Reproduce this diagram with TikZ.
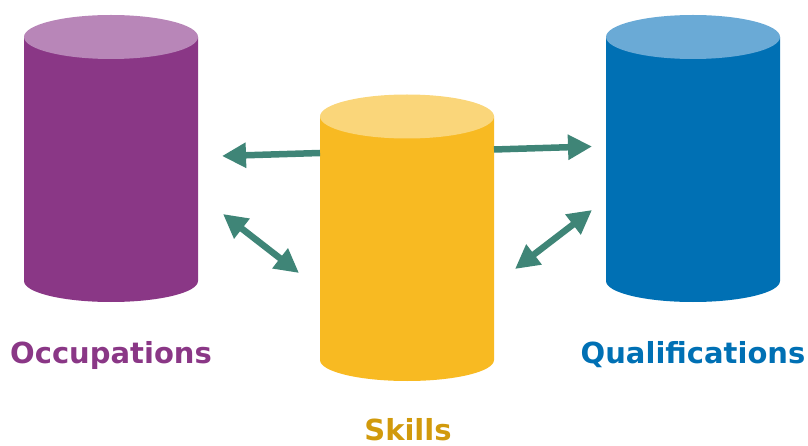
\documentclass[tikz,border=0pt]{standalone}
\usepackage{fontspec}
\setmainfont{DejaVu Sans}
\usetikzlibrary{arrows.meta}
\definecolor{occbody}{HTML}{8A3786}
\definecolor{occtop}{HTML}{B886B8}
\definecolor{skbody}{HTML}{F8BA22}
\definecolor{sktop}{HTML}{FAD67A}
\definecolor{sktext}{HTML}{D19A0C}
\definecolor{qubody}{HTML}{0070B4}
\definecolor{qutop}{HTML}{6AAAD6}
\definecolor{arrowc}{HTML}{3F8577}
\tikzset{
  lbl/.style={font=\fontsize{29}{34}\selectfont\bfseries, anchor=base, inner sep=0pt, text depth=0pt},
  link/.style={draw=arrowc, line width=6.5pt, -{Triangle[length=24pt,width=24pt]}},
  dlink/.style={draw=arrowc, line width=6.5pt, {Triangle[length=24pt,width=24pt]}-{Triangle[length=24pt,width=24pt]}},
  box/.style={inner sep=0pt, outer sep=0pt, minimum width=174pt}
}
% cylinder macro: #1 left x, #2 top center y, #3 bottom center y, #4 body, #5 top
\newcommand{\mycyl}[5]{%
  \fill[#4] (#1,#2) -- (#1,#3) arc[start angle=180,end angle=360,x radius=87pt,y radius=21pt] -- (#1+174,#2) -- cycle;
  \fill[#5] (#1+87,#2) ellipse[x radius=87pt, y radius=22pt];
}
\begin{document}
\begin{tikzpicture}[x=1pt,y=-1pt]
\useasboundingbox (0,0) rectangle (808,446);
\mycyl{24}{37}{281}{occbody}{occtop}
\mycyl{320}{116.5}{360}{skbody}{sktop}
\mycyl{606}{37}{281}{qubody}{qutop}
\node[box, minimum height=287pt, anchor=north west] (occ) at (24,15) {};
\node[box, minimum height=287pt, anchor=north west] (skl) at (320,95) {};
\node[box, minimum height=287pt, anchor=north west] (qua) at (606,15) {};
\node[lbl, text=occbody] (occl) at (111,363) {Occupations};
\node[lbl, text=sktext] (skll) at (408,440) {Skills};
\node[lbl, text=qubody] (qual) at (693,363) {Qualifications};
\coordinate (a1s) at (320,153);
\coordinate (a1e) at (222,156);
\coordinate (a2s) at (494,149.5);
\coordinate (a2e) at (592,146.5);
\coordinate (d1a) at (223,214);
\coordinate (d1b) at (299,273);
\coordinate (d2a) at (515,269);
\coordinate (d2b) at (592,210);
\draw[link] (a1s) -- (a1e);
\draw[link] (a2s) -- (a2e);
\draw[dlink] (d1a) -- (d1b);
\draw[dlink] (d2a) -- (d2b);
\end{tikzpicture}
\end{document}
